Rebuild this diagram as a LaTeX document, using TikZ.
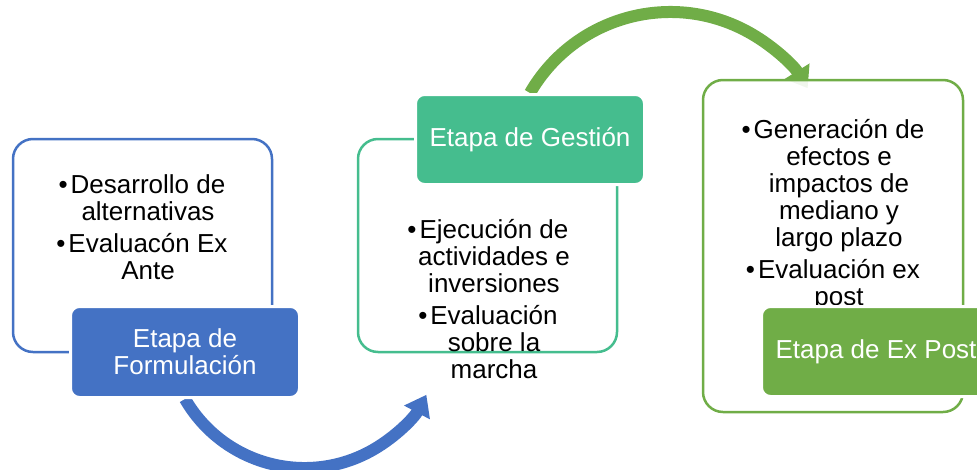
\documentclass[tikz,border=0pt]{standalone}
\usepackage{fontspec}
\setmainfont{Liberation Sans}
\usetikzlibrary{arrows.meta}
\usetikzlibrary{backgrounds}
\definecolor{azul}{RGB}{68,114,196}
\definecolor{turquesa}{RGB}{69,189,142}
\definecolor{verde}{RGB}{112,173,71}

\begin{document}
\begin{tikzpicture}[x=1pt,y=1pt,yscale=-1,xscale=1,
  marco/.style={draw=#1, line width=2.5pt, rounded corners=20pt, fill=white, inner sep=0pt},
  etiqueta/.style={fill=#1, draw=white, line width=3pt, rounded corners=9pt, text=white, minimum width=229pt, minimum height=91pt, align=center, inner sep=0pt, font=\fontsize{26}{27}\selectfont},
  lista/.style={align=center, inner sep=0pt, font=\fontsize{26}{27}\selectfont},
  flecha/.style={draw=#1, line width=12pt, -{Triangle[width=28pt,length=20pt]}}]
\useasboundingbox (0,0) rectangle (977,469);

%Shape: Rounded Rectangle [id:formulacion]
\node [marco=azul, minimum width=259pt, minimum height=213pt] (formMarco) at (142.5,245.5) {};
%Shape: Rounded Rectangle [id:gestion]
\node [marco=turquesa, minimum width=259pt, minimum height=213pt] (gestMarco) at (487.5,245.5) {};
%Shape: Rounded Rectangle [id:expost]
\node [marco=verde, fill opacity=0.9, minimum width=260pt, minimum height=332pt] (postMarco) at (833,246) {};

% Text Node
\node [lista] (formLista) at (148,227) {\llap{\textbullet\hspace{3pt}}Desarrollo de\\alternativas\\[5pt]\llap{\textbullet\hspace{3pt}}Evaluacón Ex\\Ante};
% Text Node
\node [lista] (gestLista) at (494,299.5) {\llap{\textbullet\hspace{3pt}}Ejecución de\\actividades e\\inversiones\\[5pt]\llap{\textbullet\hspace{3pt}}Evaluación\\sobre la\\marcha};
% Text Node
\node [lista] (postLista) at (839,215.5) {\llap{\textbullet\hspace{3pt}}Generación de\\efectos e\\impactos de\\mediano y\\largo plazo\\[5pt]\llap{\textbullet\hspace{3pt}}Evaluación ex\\post};

%Shape: Rectangle [id:etapas]
\node [etiqueta=azul] (formLabel) at (185,352) {Etapa de\\Formulación};
\node [etiqueta=turquesa, minimum height=90pt] (gestLabel) at (530,139.5) {Etapa de Gestión};
\node [etiqueta=verde, minimum height=90pt] (postLabel) at (876,351.5) {Etapa de Ex Post};

%Curve Lines [id:flechas]
\begin{scope}[on background layer]
\draw [flecha=azul] (formLabel.south) arc [start angle=150, end angle=28, radius=138];
\draw [flecha=verde] (gestLabel.north) arc [start angle=-150, end angle=-32, radius=162];
\end{scope}

\end{tikzpicture}
\end{document}
